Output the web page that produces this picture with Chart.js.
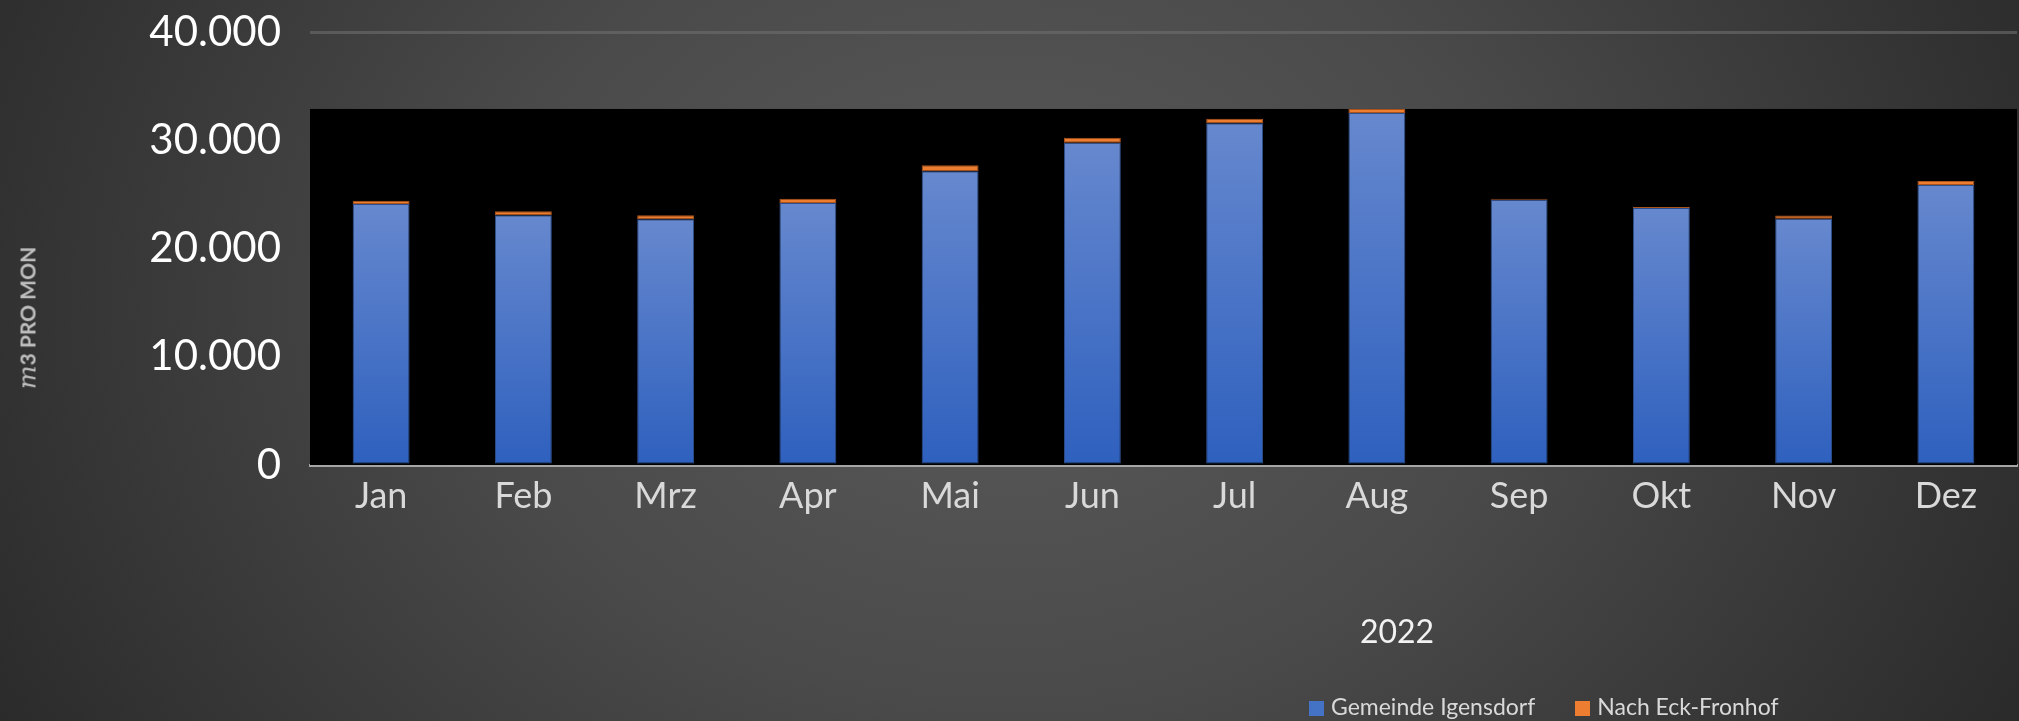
<!DOCTYPE html>
<html>
<head>
<meta charset="utf-8">
<script src="https://cdn.jsdelivr.net/npm/chart.js@4.4.1/dist/chart.umd.min.js"></script>
<style>
  html, body {
    margin: 0;
    padding: 0;
    width: 2019px;
    height: 721px;
    overflow: hidden;
  }
  body {
    position: relative;
    font-family: Lato, 'Open Sans', sans-serif;
    background: radial-gradient(ellipse 1150px 900px at 1000px 300px, #5a5a5a 0%, #4a4a4a 45%, #2a2a2a 100%);
  }
  #wrap {
    position: absolute;
    left: 0;
    top: 0;
    width: 2019px;
    height: 721px;
  }
  #yTitle {
    position: absolute;
    left: 27px;
    top: 318px;
    transform: translate(-50%, -50%) rotate(-90deg);
    white-space: nowrap;
    color: #bfbfbf;
    font-size: 21px;
    font-weight: bold;
  }
  #yTitle i {
    font-family: 'DejaVu Serif', 'Liberation Serif', serif;
    font-weight: normal;
    font-size: 25px;
  }
  #xTitle {
    position: absolute;
    left: 1397px;
    top: 630px;
    transform: translate(-50%, -50%);
    color: #f2f2f2;
    font-size: 32px;
  }
  #legend {
    position: absolute;
    left: 1309px;
    top: 692px;
    display: flex;
    align-items: center;
    color: #d9d9d9;
    font-size: 23px;
    white-space: nowrap;
  }
  #legend .item {
    display: flex;
    align-items: center;
    margin-right: 40px;
  }
  #legend .box {
    width: 15px;
    height: 15px;
    margin-right: 7px;
    margin-top: 4px;
  }
</style>
</head>
<body>
<div id="wrap"><canvas id="chart" width="2019" height="721"></canvas></div>
<div id="yTitle"><i>m</i>3 PRO MON</div>
<div id="xTitle">2022</div>
<div id="legend"></div>

<script>
// ===================================
// DATA
// ===================================

const months = ['Jan', 'Feb', 'Mrz', 'Apr', 'Mai', 'Jun', 'Jul', 'Aug', 'Sep', 'Okt', 'Nov', 'Dez'];

// m3 per month
const gemeindeIgensdorf = [24100, 23070, 22700, 24200, 27130, 29780, 31570, 32520, 24510, 23750, 22750, 25860];
const nachEckFronhof = [300, 370, 370, 400, 550, 460, 420, 370, 90, 80, 310, 370];

const yTicks = [0, 10000, 20000, 30000, 40000];

const seriesNames = ['Gemeinde Igensdorf', 'Nach Eck-Fronhof'];
const seriesColors = ['#4472c4', '#ed7d31'];

// ===================================
// HELPERS
// ===================================

function formatNumber(v) {
  return String(v).replace(/\B(?=(\d{3})+(?!\d))/g, '.');
}

// per-bar vertical gradient like the Excel fill
function blueFill(context) {
  const chart = context.chart;
  if (!chart.chartArea || context.type !== 'data') return seriesColors[0];
  const y = chart.scales.y;
  const top = y.getPixelForValue(gemeindeIgensdorf[context.dataIndex]);
  const bottom = y.getPixelForValue(0);
  const g = chart.ctx.createLinearGradient(0, top, 0, bottom);
  g.addColorStop(0, '#6688ce');
  g.addColorStop(1, '#2e60be');
  return g;
}

// black plot background up to the highest stacked bar
const plotBackground = {
  id: 'plotBackground',
  beforeDatasetsDraw(chart) {
    const { ctx, chartArea } = chart;
    const totals = months.map((m, i) => gemeindeIgensdorf[i] + nachEckFronhof[i]);
    const top = chart.scales.y.getPixelForValue(Math.max(...totals));
    ctx.save();
    ctx.fillStyle = '#000000';
    ctx.fillRect(chartArea.left, top, chartArea.right - chartArea.left, chartArea.bottom - top);
    ctx.restore();
  }
};

// ===================================
// CHART
// ===================================

Chart.defaults.font.family = 'Lato, "Open Sans", sans-serif';

const chart = new Chart(document.getElementById('chart'), {
  type: 'bar',
  data: {
    labels: months,
    datasets: [{
      label: seriesNames[0],
      data: gemeindeIgensdorf,
      backgroundColor: blueFill,
      borderColor: '#2f4f8c',
      borderWidth: 1,
      borderSkipped: false,
      barPercentage: 0.4,
      categoryPercentage: 1
    }, {
      label: seriesNames[1],
      data: nachEckFronhof,
      backgroundColor: seriesColors[1],
      borderColor: '#a9541d',
      borderWidth: 1,
      borderSkipped: false,
      barPercentage: 0.4,
      categoryPercentage: 1
    }]
  },
  options: {
    responsive: false,
    animation: false,
    layout: {
      padding: { top: 32, right: 2, bottom: 0, left: 0 }
    },
    plugins: {
      legend: { display: false },
      tooltip: { enabled: false }
    },
    scales: {
      x: {
        stacked: true,
        grid: { display: false, drawTicks: false },
        border: { display: true, color: '#a6a6a6', width: 3 },
        ticks: {
          color: '#d9d9d9',
          font: { size: 36 },
          padding: 10
        },
        afterFit(scale) {
          scale.height = 256;
          scale.paddingLeft = 0;
          scale.paddingRight = 0;
        }
      },
      y: {
        stacked: true,
        min: 0,
        max: 40000,
        afterBuildTicks(scale) {
          scale.ticks = yTicks.map(v => ({ value: v }));
        },
        grid: {
          color: 'rgba(110, 110, 110, 0.6)',
          lineWidth: 3,
          drawTicks: false
        },
        border: { display: false },
        ticks: {
          color: '#ffffff',
          font: { size: 42 },
          padding: 29,
          callback: v => formatNumber(v)
        },
        afterFit(scale) {
          scale.width = 310;
          scale.paddingTop = 0;
          scale.paddingBottom = 0;
        }
      }
    }
  },
  plugins: [plotBackground]
});

// legend in HTML, placed like the reference
const legendEl = document.getElementById('legend');
seriesNames.forEach((name, i) => {
  const item = document.createElement('div');
  item.className = 'item';
  item.innerHTML = `<span class="box" style="background:${seriesColors[i]}"></span><span>${name}</span>`;
  legendEl.appendChild(item);
});
</script>
</body>
</html>
